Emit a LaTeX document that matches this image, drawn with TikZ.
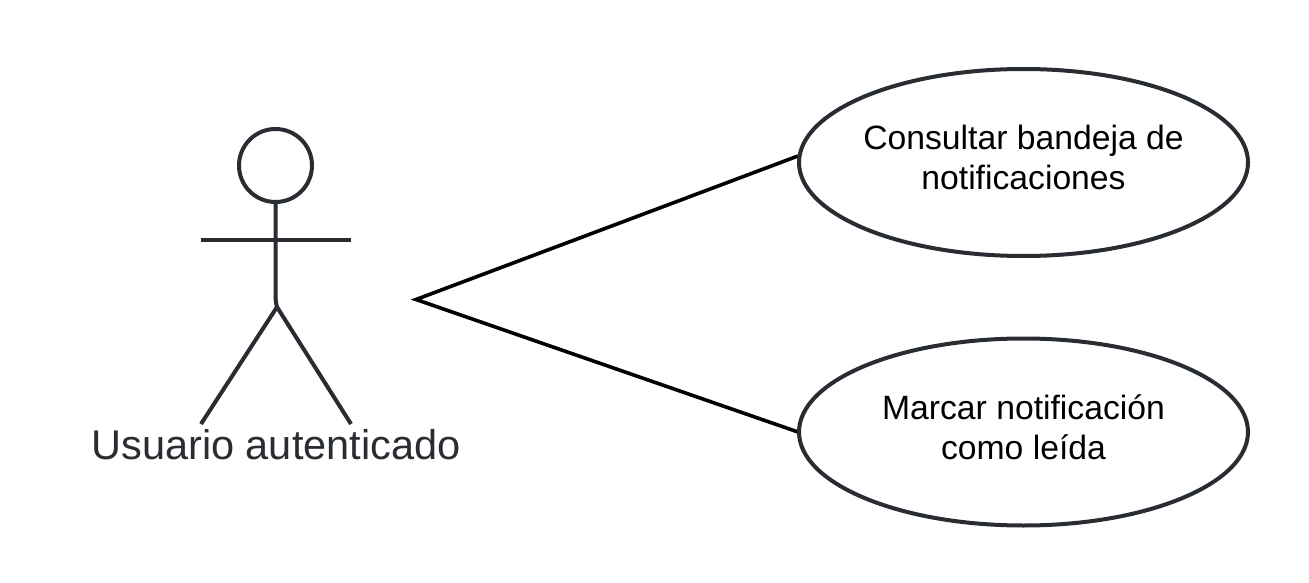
\documentclass[tikz,border=0pt]{standalone}
\usepackage{fontspec}
\setmainfont{Liberation Sans}
\usetikzlibrary{shapes.geometric}
\definecolor{ink}{HTML}{282C33}
\tikzset{
 x=1pt,y=-1pt,
 usecase/.style={draw=ink,line width=4pt,ellipse,minimum width=449pt,minimum height=187pt,inner sep=0pt},
 uctext/.style={align=center,inner sep=0pt,font=\fontsize{33.7}{40}\selectfont,text=black},
 limb/.style={draw=ink,line width=4pt,line cap=butt,line join=round},
 assoc/.style={draw=black,line width=3.6pt,line join=miter},
 actorlabel/.style={font=\fontsize{41.5}{48}\selectfont,text=ink,inner sep=0pt}
}
\begin{document}
\begin{tikzpicture}
\useasboundingbox (0,0) rectangle (1309,583);
\fill[white] (0,0) rectangle (1309,583);
\coordinate (hip) at (277,307);
\coordinate (armL) at (200.5,240);
\coordinate (armR) at (351,240);
\coordinate (legL) at (201,424);
\coordinate (legR) at (351,424);
\coordinate (hub) at (416,299.5);
\coordinate (a1) at (798,156);
\coordinate (a2) at (798,432);
\draw[assoc] (a1) -- (hub) -- (a2);
\node[draw=ink,line width=4pt,circle,minimum size=73pt,inner sep=0pt] (head) at (275.5,165.5) {};
\draw[limb] (head.south) -- (275.5,294) .. controls (275.5,300) and (276,304) .. (hip);
\draw[limb] (armL) -- (armR);
\draw[limb] (legL) -- (hip) -- (legR);
\node[actorlabel] (actor) at (276,445) {Usuario autenticado};
\node[usecase] (uc1) at (1023.5,162.5) {};
\node[uctext] (uc1t) at (1023.5,157.5) {Consultar bandeja de\\notificaciones};
\node[usecase] (uc2) at (1023.5,432) {};
\node[uctext] (uc2t) at (1023.5,427.5) {Marcar notificación\\como leída};
\end{tikzpicture}
\end{document}
